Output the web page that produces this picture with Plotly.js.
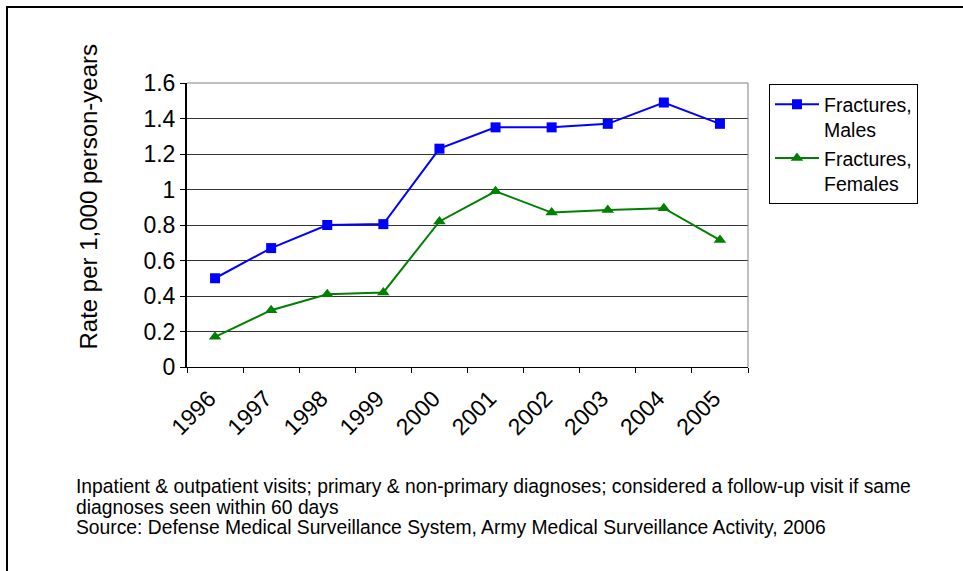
<!DOCTYPE html>
<html><head><meta charset="utf-8">
<script src="https://cdn.plot.ly/plotly-3.0.1.min.js"></script>
<style>
html,body{margin:0;padding:0;background:#fff;}
#wrap{position:relative;width:963px;height:571px;overflow:hidden;}
#chart{position:absolute;left:0;top:0;width:963px;height:571px;}
#frame{position:absolute;left:6px;top:6px;width:1000px;height:700px;border:2px solid #000;pointer-events:none;}
</style></head>
<body><div id="wrap"><div id="chart"></div><div id="frame"></div></div>
<script>
var years = ['1996','1997','1998','1999','2000','2001','2002','2003','2004','2005'];
var males = [0.50, 0.67, 0.80, 0.805, 1.23, 1.35, 1.35, 1.37, 1.49, 1.37];
var females = [0.17, 0.32, 0.41, 0.42, 0.82, 0.99, 0.87, 0.885, 0.895, 0.715];
var yTicks = [0, 0.2, 0.4, 0.6, 0.8, 1, 1.2, 1.4, 1.6];
var yTickText = ['0','0.2','0.4','0.6','0.8','1','1.2','1.4','1.6'];
var yTitle = 'Rate per 1,000 person-years';
var noteLines = ['Inpatient &amp; outpatient visits; primary &amp; non-primary diagnoses; considered a follow-up visit if same',
                 'diagnoses seen within 60 days',
                 'Source: Defense Medical Surveillance System, Army Medical Surveillance Activity, 2006'];

var F = 'Liberation Sans, Arial, sans-serif';
var traces = [
  {x: years, y: males, name: 'Fractures,<br>Males', type: 'scatter', mode: 'lines+markers',
   line: {color: '#0000FF', width: 2}, marker: {symbol: 'square', size: 10, color: '#0000FF'}},
  {x: years, y: females, name: 'Fractures,<br>Females', type: 'scatter', mode: 'lines+markers',
   line: {color: '#008000', width: 2}, marker: {symbol: 'triangle-up', size: 11, color: '#008000'}}
];
var notes = noteLines.map(function(t, i){
  return {text: t, xref: 'paper', yref: 'paper', x: (74-187)/561, y: (367-487-20*i)/284,
          xanchor: 'left', yanchor: 'middle', showarrow: false, align: 'left',
          font: {family: F, size: 19.3, color: '#000'}};
});
notes.push({text: yTitle, xref: 'paper', yref: 'paper', x: (88-187)/561, y: (367-196.5)/284,
            xanchor: 'center', yanchor: 'middle', textangle: -90, showarrow: false,
            font: {family: F, size: 24, color: '#000'}});
var layout = {
  width: 963, height: 571,
  margin: {l: 187, r: 215, t: 83, b: 204},
  paper_bgcolor: '#fff', plot_bgcolor: '#fff',
  font: {family: F, color: '#000'},
  showlegend: true,
  legend: {x: 1.0374, y: 0.996, xanchor: 'left', yanchor: 'top', bordercolor: '#000', borderwidth: 1,
           font: {family: F, size: 19.5, color: '#000'}, tracegroupgap: 0, itemwidth: 44,
           bgcolor: '#fff', valign: 'top'},
  xaxis: {type: 'category', range: [-0.5, 9.5], tickangle: -45, tickson: 'boundaries',
          ticks: 'outside', ticklen: 5, tickcolor: '#000', showgrid: false, zeroline: false,
          showline: true, linecolor: '#000', linewidth: 1, ticklabelstandoff: 8, ticklabelshift: -6,
          tickfont: {family: F, size: 23, color: '#000'}, fixedrange: true},
  yaxis: {range: [0, 1.6], tickvals: yTicks, ticktext: yTickText, ticks: 'outside', ticklen: 5,
          tickcolor: '#000', showgrid: true, gridcolor: '#333', gridwidth: 1, zeroline: false,
          showline: true, linecolor: '#000', linewidth: 2,
          tickfont: {family: F, size: 23, color: '#000'}},
  shapes: [
    {type: 'line', xref: 'paper', yref: 'paper', x0: 1, x1: 1, y0: 0, y1: 1, line: {color: '#808080', width: 1}},
    {type: 'line', xref: 'paper', yref: 'paper', x0: 0, x1: 1, y0: 1, y1: 1, line: {color: '#808080', width: 1}}
  ],
  annotations: notes
};
Plotly.newPlot('chart', traces, layout, {displayModeBar: false, staticPlot: true});
</script></body></html>
